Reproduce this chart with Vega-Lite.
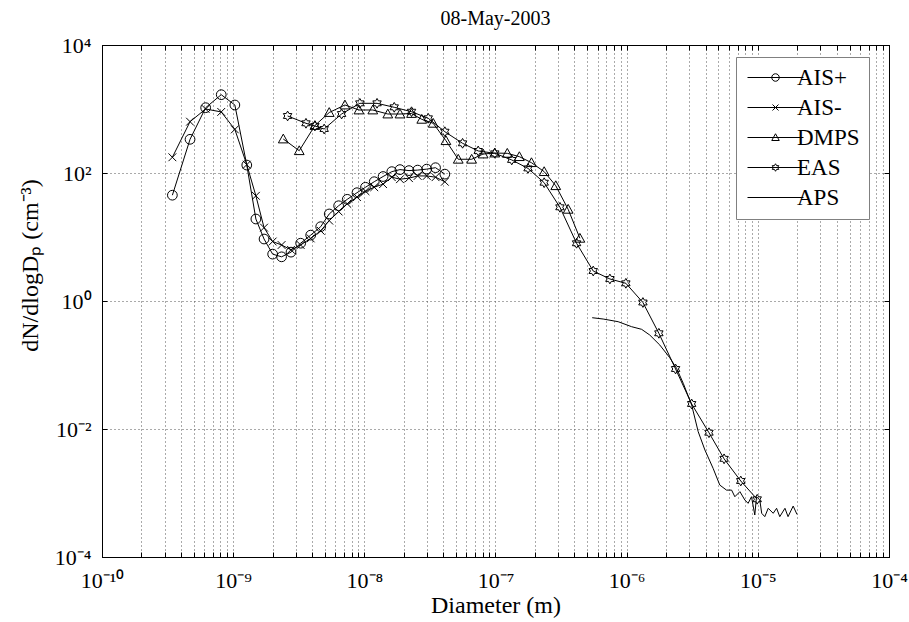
{
  "$schema": "https://vega.github.io/schema/vega-lite/v6.json",
  "width": 787,
  "height": 512,
  "autosize": {"type": "none"},
  "padding": {"left": 102, "top": 45, "right": 20, "bottom": 65},
  "title": {"text": "08-May-2003", "fontSize": 20, "fontWeight": "normal", "font": "Liberation Serif", "color": "black", "anchor": "middle", "offset": 5},
  "data": {"values": [
    {"s": "AIS+", "D": 3.44e-10, "N": 45},
    {"s": "AIS+", "D": 4.69e-10, "N": 336},
    {"s": "AIS+", "D": 6.17e-10, "N": 1048},
    {"s": "AIS+", "D": 8.11e-10, "N": 1673},
    {"s": "AIS+", "D": 1.03e-9, "N": 1155},
    {"s": "AIS+", "D": 1.27e-9, "N": 133},
    {"s": "AIS+", "D": 1.49e-9, "N": 19.1},
    {"s": "AIS+", "D": 1.72e-9, "N": 9.3},
    {"s": "AIS+", "D": 2.0e-9, "N": 5.4},
    {"s": "AIS+", "D": 2.34e-9, "N": 4.9},
    {"s": "AIS+", "D": 2.76e-9, "N": 5.8},
    {"s": "AIS+", "D": 3.27e-9, "N": 8.0},
    {"s": "AIS+", "D": 3.9e-9, "N": 10.7},
    {"s": "AIS+", "D": 4.65e-9, "N": 14.5},
    {"s": "AIS+", "D": 5.4e-9, "N": 22.9},
    {"s": "AIS+", "D": 6.37e-9, "N": 30.8},
    {"s": "AIS+", "D": 7.41e-9, "N": 38.8},
    {"s": "AIS+", "D": 8.79e-9, "N": 49.2},
    {"s": "AIS+", "D": 1.02e-8, "N": 59.8},
    {"s": "AIS+", "D": 1.19e-8, "N": 73.1},
    {"s": "AIS+", "D": 1.39e-8, "N": 88.1},
    {"s": "AIS+", "D": 1.62e-8, "N": 105},
    {"s": "AIS+", "D": 1.87e-8, "N": 113},
    {"s": "AIS+", "D": 2.19e-8, "N": 109},
    {"s": "AIS+", "D": 2.55e-8, "N": 111},
    {"s": "AIS+", "D": 2.99e-8, "N": 115},
    {"s": "AIS+", "D": 3.49e-8, "N": 121},
    {"s": "AIS+", "D": 4.11e-8, "N": 96},
    {"s": "AIS-", "D": 3.44e-10, "N": 176},
    {"s": "AIS-", "D": 4.69e-10, "N": 634},
    {"s": "AIS-", "D": 6.17e-10, "N": 1000},
    {"s": "AIS-", "D": 8.11e-10, "N": 900},
    {"s": "AIS-", "D": 1.03e-9, "N": 480},
    {"s": "AIS-", "D": 1.27e-9, "N": 135},
    {"s": "AIS-", "D": 1.49e-9, "N": 44},
    {"s": "AIS-", "D": 1.72e-9, "N": 14},
    {"s": "AIS-", "D": 2.0e-9, "N": 8.5},
    {"s": "AIS-", "D": 2.34e-9, "N": 7.5},
    {"s": "AIS-", "D": 2.76e-9, "N": 6.3},
    {"s": "AIS-", "D": 3.27e-9, "N": 7.5},
    {"s": "AIS-", "D": 3.9e-9, "N": 9.5},
    {"s": "AIS-", "D": 4.65e-9, "N": 12.5},
    {"s": "AIS-", "D": 5.4e-9, "N": 18},
    {"s": "AIS-", "D": 6.37e-9, "N": 25},
    {"s": "AIS-", "D": 7.41e-9, "N": 33},
    {"s": "AIS-", "D": 8.79e-9, "N": 42},
    {"s": "AIS-", "D": 1.02e-8, "N": 52},
    {"s": "AIS-", "D": 1.19e-8, "N": 60},
    {"s": "AIS-", "D": 1.39e-8, "N": 67},
    {"s": "AIS-", "D": 1.62e-8, "N": 86},
    {"s": "AIS-", "D": 1.87e-8, "N": 80},
    {"s": "AIS-", "D": 2.19e-8, "N": 83},
    {"s": "AIS-", "D": 2.55e-8, "N": 90},
    {"s": "AIS-", "D": 2.99e-8, "N": 90},
    {"s": "AIS-", "D": 3.49e-8, "N": 86},
    {"s": "AIS-", "D": 4.11e-8, "N": 73},
    {"s": "DMPS", "D": 2.41e-9, "N": 340},
    {"s": "DMPS", "D": 3.19e-9, "N": 223},
    {"s": "DMPS", "D": 4.2e-9, "N": 552},
    {"s": "DMPS", "D": 5.4e-9, "N": 881},
    {"s": "DMPS", "D": 7.11e-9, "N": 1155},
    {"s": "DMPS", "D": 9.1e-9, "N": 965},
    {"s": "DMPS", "D": 1.16e-8, "N": 965},
    {"s": "DMPS", "D": 1.51e-8, "N": 835},
    {"s": "DMPS", "D": 1.87e-8, "N": 835},
    {"s": "DMPS", "D": 2.29e-8, "N": 851},
    {"s": "DMPS", "D": 2.74e-8, "N": 690},
    {"s": "DMPS", "D": 3.35e-8, "N": 598},
    {"s": "DMPS", "D": 4.19e-8, "N": 320},
    {"s": "DMPS", "D": 5.2e-8, "N": 164},
    {"s": "DMPS", "D": 6.58e-8, "N": 164},
    {"s": "DMPS", "D": 8.05e-8, "N": 198},
    {"s": "DMPS", "D": 9.88e-8, "N": 205},
    {"s": "DMPS", "D": 1.23e-7, "N": 203},
    {"s": "DMPS", "D": 1.52e-7, "N": 180},
    {"s": "DMPS", "D": 1.88e-7, "N": 145},
    {"s": "DMPS", "D": 2.35e-7, "N": 105},
    {"s": "DMPS", "D": 2.88e-7, "N": 63.3},
    {"s": "DMPS", "D": 3.58e-7, "N": 27.1},
    {"s": "DMPS", "D": 4.4e-7, "N": 9.55},
    {"s": "EAS", "D": 2.6e-9, "N": 778},
    {"s": "EAS", "D": 3.59e-9, "N": 598},
    {"s": "EAS", "D": 4.2e-9, "N": 542},
    {"s": "EAS", "D": 4.94e-9, "N": 487},
    {"s": "EAS", "D": 6.71e-9, "N": 835},
    {"s": "EAS", "D": 9.24e-9, "N": 1227},
    {"s": "EAS", "D": 1.25e-8, "N": 1227},
    {"s": "EAS", "D": 1.69e-8, "N": 1063},
    {"s": "EAS", "D": 2.29e-8, "N": 907},
    {"s": "EAS", "D": 3.07e-8, "N": 716},
    {"s": "EAS", "D": 4.11e-8, "N": 442},
    {"s": "EAS", "D": 5.61e-8, "N": 291},
    {"s": "EAS", "D": 7.38e-8, "N": 221},
    {"s": "EAS", "D": 9.88e-8, "N": 203},
    {"s": "EAS", "D": 1.33e-7, "N": 160},
    {"s": "EAS", "D": 1.77e-7, "N": 118},
    {"s": "EAS", "D": 2.35e-7, "N": 70.5},
    {"s": "EAS", "D": 3.1e-7, "N": 29.1},
    {"s": "EAS", "D": 4.15e-7, "N": 7.98},
    {"s": "EAS", "D": 5.56e-7, "N": 2.94},
    {"s": "EAS", "D": 7.45e-7, "N": 2.21},
    {"s": "EAS", "D": 9.86e-7, "N": 1.89},
    {"s": "EAS", "D": 1.33e-6, "N": 0.947},
    {"s": "EAS", "D": 1.76e-6, "N": 0.313},
    {"s": "EAS", "D": 2.36e-6, "N": 0.0866},
    {"s": "EAS", "D": 3.13e-6, "N": 0.0246},
    {"s": "EAS", "D": 4.24e-6, "N": 0.00875},
    {"s": "EAS", "D": 5.53e-6, "N": 0.00342},
    {"s": "EAS", "D": 7.41e-6, "N": 0.00154},
    {"s": "EAS", "D": 9.89e-6, "N": 0.000798},
    {"s": "APS", "D": 5.46e-7, "N": 0.548},
    {"s": "APS", "D": 6.62e-7, "N": 0.523},
    {"s": "APS", "D": 8.61e-7, "N": 0.475},
    {"s": "APS", "D": 1.09e-6, "N": 0.397},
    {"s": "APS", "D": 1.3e-6, "N": 0.361},
    {"s": "APS", "D": 1.5e-6, "N": 0.294},
    {"s": "APS", "D": 1.79e-6, "N": 0.205},
    {"s": "APS", "D": 2.13e-6, "N": 0.13},
    {"s": "APS", "D": 2.4e-6, "N": 0.0888},
    {"s": "APS", "D": 2.7e-6, "N": 0.0518},
    {"s": "APS", "D": 3.13e-6, "N": 0.0237},
    {"s": "APS", "D": 3.51e-6, "N": 0.00908},
    {"s": "APS", "D": 3.95e-6, "N": 0.0047},
    {"s": "APS", "D": 4.56e-6, "N": 0.00243},
    {"s": "APS", "D": 5.13e-6, "N": 0.00133},
    {"s": "APS", "D": 5.77e-6, "N": 0.00111},
    {"s": "APS", "D": 6.31e-6, "N": 0.00111},
    {"s": "APS", "D": 6.68e-6, "N": 0.000875},
    {"s": "APS", "D": 7.3e-6, "N": 0.00105},
    {"s": "APS", "D": 7.96e-6, "N": 0.000778},
    {"s": "APS", "D": 8.43e-6, "N": 0.00069},
    {"s": "APS", "D": 8.95e-6, "N": 0.000875},
    {"s": "APS", "D": 9.48e-6, "N": 0.000453},
    {"s": "APS", "D": 9.77e-6, "N": 0.000875},
    {"s": "APS", "D": 1.035e-5, "N": 0.000778},
    {"s": "APS", "D": 1.07e-5, "N": 0.000482},
    {"s": "APS", "D": 1.13e-5, "N": 0.000427},
    {"s": "APS", "D": 1.2e-5, "N": 0.000577},
    {"s": "APS", "D": 1.31e-5, "N": 0.000482},
    {"s": "APS", "D": 1.39e-5, "N": 0.000577},
    {"s": "APS", "D": 1.47e-5, "N": 0.000427},
    {"s": "APS", "D": 1.61e-5, "N": 0.000577},
    {"s": "APS", "D": 1.7e-5, "N": 0.000427},
    {"s": "APS", "D": 1.86e-5, "N": 0.000625},
    {"s": "APS", "D": 1.99e-5, "N": 0.000462}
  ]},
  "layer": [
    {
      "mark": {"type": "line", "color": "black", "strokeWidth": 1},
      "encoding": {
        "x": {"field": "D", "type": "quantitative",
          "scale": {"type": "log", "domain": [1e-10, 1e-4], "nice": false},
          "axis": {"orient": "bottom", "title": "Diameter (m)", "titleFontSize": 24,
            "values": [1e-10,2e-10,3e-10,4e-10,5e-10,6e-10,7e-10,8e-10,9e-10,1e-9,2e-9,3e-9,4e-9,5e-9,6e-9,7e-9,8e-9,9e-9,1e-8,2e-8,3e-8,4e-8,5e-8,6e-8,7e-8,8e-8,9e-8,1e-7,2e-7,3e-7,4e-7,5e-7,6e-7,7e-7,8e-7,9e-7,1e-6,2e-6,3e-6,4e-6,5e-6,6e-6,7e-6,8e-6,9e-6,1e-5,2e-5,3e-5,4e-5,5e-5,6e-5,7e-5,8e-5,9e-5,1e-4],
            "grid": true, "tickSize": -5, "labelPadding": 18, "titlePadding": 2,
            "labelExpr": "abs(log(datum.value)/LN10 - round(log(datum.value)/LN10)) < 0.01 ? ['10⁻¹⁰','10⁻⁹','10⁻⁸','10⁻⁷','10⁻⁶','10⁻⁵','10⁻⁴'][round(log(datum.value)/LN10)+10] : ''"}},
        "y": {"field": "N", "type": "quantitative",
          "scale": {"type": "log", "domain": [1e-4, 1e4], "nice": false},
          "axis": {"orient": "left", "title": "dN/dlogDₚ (cm⁻³)", "titleFontSize": 24,
            "values": [0.0001, 0.01, 1, 100, 10000],
            "grid": true, "tickSize": -5, "labelPadding": 16,
            "titleX": -60, "titleY": 220,
            "labelExpr": "['10⁻⁴','','10⁻²','','10⁰','','10²','','10⁴'][round(log(datum.value)/LN10)+4]"}},
        "detail": {"field": "s", "type": "nominal"}
      }
    },
    {
      "transform": [{"filter": "datum.s != 'APS'"}],
      "mark": {"type": "point", "filled": false, "color": "black", "size": 95, "strokeWidth": 1, "opacity": 1},
      "encoding": {
        "x": {"field": "D", "type": "quantitative", "axis": null},
        "y": {"field": "N", "type": "quantitative", "axis": null},
        "shape": {"field": "s", "type": "nominal",
          "scale": {"domain": ["AIS+", "AIS-", "DMPS", "EAS"],
            "range": ["M1,0A1,1,0,1,1,-1,0A1,1,0,1,1,1,0", "M-0.8,-0.8L0.8,0.8M-0.8,0.8L0.8,-0.8", "M0,-1L1,0.8L-1,0.8Z", "M0,-1L0.289,-0.5L0.866,-0.5L0.577,0L0.866,0.5L0.289,0.5L0,1L-0.289,0.5L-0.866,0.5L-0.577,0L-0.866,-0.5L-0.289,-0.5Z"]},
          "legend": null}
      }
    },
    {
      "transform": [{"filter": "datum.s == 'none'"}],
      "mark": {"type": "point", "filled": false, "color": "black", "size": 49, "strokeWidth": 1, "opacity": 1},
      "encoding": {
        "x": {"field": "D", "type": "quantitative", "axis": null},
        "y": {"field": "N", "type": "quantitative", "axis": null},
        "shape": {"field": "s", "type": "nominal",
          "scale": {"domain": ["AIS+", "AIS-", "DMPS", "EAS", "APS"],
            "range": ["M-5.6,0H5.6M0.75,0A0.75,0.75,0,1,1,-0.75,0A0.75,0.75,0,1,1,0.75,0", "M-5.6,0H5.6M-0.6,-0.6L0.6,0.6M-0.6,0.6L0.6,-0.6", "M-5.6,0H5.6M0,-0.75L0.75,0.6L-0.75,0.6Z", "M-5.6,0H5.6M0,-0.75L0.217,-0.375L0.65,-0.375L0.433,0L0.65,0.375L0.217,0.375L0,0.75L-0.217,0.375L-0.65,0.375L-0.433,0L-0.65,-0.375L-0.217,-0.375Z", "M-5.6,0H5.6"]},
          "legend": {"title": null, "orient": "none", "legendX": 634, "legendY": 12, "padding": 9,
            "strokeColor": "#808080", "fillColor": "white",
            "labelFontSize": 23, "labelFont": "Liberation Serif", "labelColor": "black",
            "symbolOffset": 19, "labelOffset": 10, "rowPadding": 6,
            "symbolStrokeWidth": 1, "symbolFillColor": "transparent", "symbolStrokeColor": "black", "symbolOpacity": 1,
            "labelExpr": "datum.label + '    '"}}
      }
    },
    {
      "transform": [{"filter": "datum.s == 'none'"}],
      "mark": {"type": "point", "opacity": 0},
      "encoding": {
        "x": {"field": "D", "type": "quantitative",
          "axis": {"orient": "top", "title": null, "labels": false, "grid": false, "tickSize": -5,
            "values": [1e-10,2e-10,3e-10,4e-10,5e-10,6e-10,7e-10,8e-10,9e-10,1e-9,2e-9,3e-9,4e-9,5e-9,6e-9,7e-9,8e-9,9e-9,1e-8,2e-8,3e-8,4e-8,5e-8,6e-8,7e-8,8e-8,9e-8,1e-7,2e-7,3e-7,4e-7,5e-7,6e-7,7e-7,8e-7,9e-7,1e-6,2e-6,3e-6,4e-6,5e-6,6e-6,7e-6,8e-6,9e-6,1e-5,2e-5,3e-5,4e-5,5e-5,6e-5,7e-5,8e-5,9e-5,1e-4]}},
        "y": {"field": "N", "type": "quantitative",
          "axis": {"orient": "right", "title": null, "labels": false, "grid": false, "tickSize": -5,
            "values": [0.0001, 0.01, 1, 100, 10000]}}
      }
    }
  ],
  "resolve": {"axis": {"x": "independent", "y": "independent"}, "scale": {"shape": "independent"}},
  "config": {
    "font": "Liberation Serif",
    "view": {"stroke": "black", "strokeWidth": 1},
    "axis": {"labelFont": "Liberation Serif", "titleFont": "Liberation Serif", "labelColor": "black", "titleColor": "black",
      "domainColor": "black", "tickColor": "black", "labelFontSize": 22, "titleFontSize": 23, "titleFontWeight": "normal",
      "gridColor": "#555555", "gridDash": [1, 3], "gridOpacity": 1, "gridWidth": 1, "labelFlush": false, "labelOverlap": false}
  }
}
